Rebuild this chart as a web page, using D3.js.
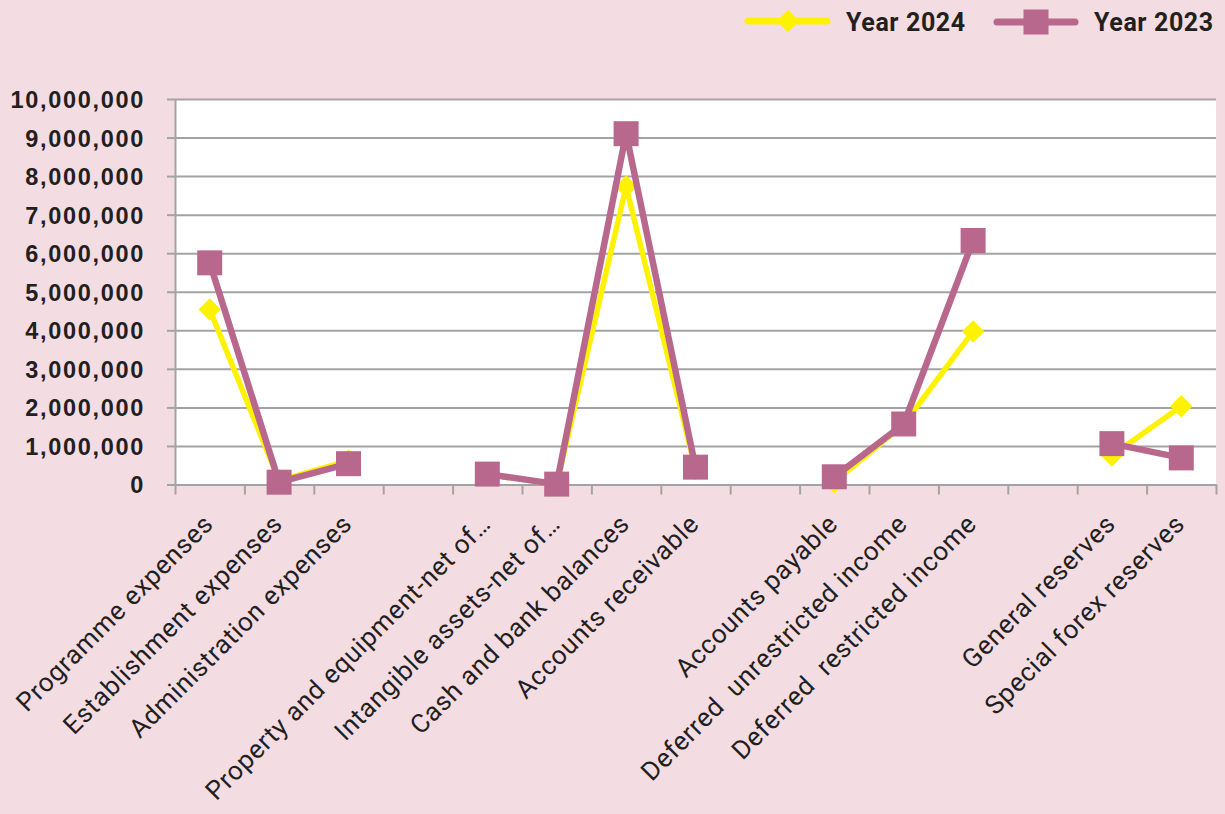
<html>
<head>
<script src="https://d3js.org/d3.v7.min.js"></script>
<style>
  body { margin: 0; background: #f4dce3; }
  svg { display: block; font-family: Roboto, sans-serif; }
</style>
</head>
<body>
<svg width="1225" height="814"></svg>
<script>
// chart values
var categories = ["Programme expenses", "Establishment expenses", "Administration expenses", "",
  "Property and equipment-net of\u2026", "Intangible assets-net of\u2026", "Cash and bank balances",
  "Accounts receivable", "", "Accounts payable", "Deferred  unrestricted income",
  "Deferred  restricted income", "", "General reserves", "Special forex reserves"];
var year2024 = [4540000, 100000, 620000, null, 260000, 5000, 7730000, 400000, null, 60000, 1560000, 3970000, null, 750000, 2030000];
var year2023 = [5750000, 60000, 540000, null, 270000, 10000, 9100000, 450000, null, 200000, 1570000, 6330000, null, 1060000, 690000];
var yTicks = [0, 1000000, 2000000, 3000000, 4000000, 5000000, 6000000, 7000000, 8000000, 9000000, 10000000];

var plotLeft = 175, plotRight = 1216, plotTop = 99, plotBottom = 484.5;
var yellow = "#fff200", purple = "#b9688d", grid = "#a3a3a5", ink = "#231f20";

var svg = d3.select("svg");
svg.append("rect").attr("width", 1225).attr("height", 814).attr("fill", "#f4dce3");

var x = d3.scaleBand()
    .domain(d3.range(categories.length))
    .range([plotLeft, plotRight]);
var xEdge = d3.scaleLinear()
    .domain([0, categories.length])
    .range([plotLeft, plotRight]);
var y = d3.scaleLinear()
    .domain([0, 10000000])
    .range([plotBottom, plotTop]);

svg.append("rect")
    .attr("x", plotLeft).attr("y", plotTop)
    .attr("width", plotRight - plotLeft).attr("height", plotBottom - plotTop)
    .attr("fill", "white");

// gridlines
svg.append("g")
    .attr("transform", "translate(" + plotLeft + ",0)")
    .call(d3.axisLeft(y).tickValues(yTicks).tickSize(-(plotRight - plotLeft)).tickFormat(""))
    .call(function(g) { g.select(".domain").remove(); })
    .selectAll("line").attr("stroke", grid).attr("stroke-width", 2);

// y axis with tick labels
var yAxis = svg.append("g")
    .attr("transform", "translate(" + plotLeft + ",0)")
    .call(d3.axisLeft(y).tickValues(yTicks).tickSize(8).tickSizeOuter(0).tickPadding(22)
        .tickFormat(d3.format(",")));
yAxis.select(".domain").attr("stroke", grid).attr("stroke-width", 2);
yAxis.selectAll("line").attr("stroke", grid).attr("stroke-width", 2);
yAxis.selectAll("text")
    .attr("fill", ink)
    .attr("font-size", 23.5)
    .attr("font-weight", "bold")
    .attr("letter-spacing", 1.7)
    .attr("dy", "0.36em");

// x axis: ticks between categories
var xAxis = svg.append("g")
    .attr("transform", "translate(0," + plotBottom + ")")
    .call(d3.axisBottom(xEdge).tickValues(d3.range(categories.length + 1)).tickSize(10).tickSizeOuter(0).tickFormat(""));
xAxis.select(".domain").attr("stroke", grid).attr("stroke-width", 2);
xAxis.selectAll("line").attr("stroke", grid).attr("stroke-width", 2);

// rotated category labels
svg.append("g").selectAll("text")
    .data(categories)
    .enter()
    .append("text")
    .attr("transform", function(d, i) {
        return "translate(" + (x(i) + x.bandwidth() / 2 + 5) + "," + (plotBottom + 41) + ") rotate(-45)";
    })
    .attr("text-anchor", "end")
    .attr("font-size", 26)
    .attr("letter-spacing", 0.7)
    .attr("fill", ink)
    .style("white-space", "pre")
    .text(function(d) { return d; });

var line = d3.line()
    .defined(function(d) { return d != null; })
    .x(function(d, i) { return x(i) + x.bandwidth() / 2; })
    .y(function(d) { return y(d); });

var diamond = d3.symbol().type(d3.symbolSquare).size(250);
var square = d3.symbol().type(d3.symbolSquare).size(625);

function drawSeries(values, color, width, marker, angle) {
    svg.append("path")
        .datum(values)
        .attr("d", line)
        .attr("fill", "none")
        .attr("stroke", color)
        .attr("stroke-width", width)
        .attr("stroke-linejoin", "round");
    svg.append("g").selectAll("path")
        .data(values.map(function(v, i) { return { v: v, i: i }; }).filter(function(d) { return d.v != null; }))
        .enter()
        .append("path")
        .attr("d", marker)
        .attr("fill", color)
        .attr("transform", function(d) {
            return "translate(" + (x(d.i) + x.bandwidth() / 2) + "," + y(d.v) + ") rotate(" + angle + ")";
        });
}

drawSeries(year2024, yellow, 5.5, diamond, 45);
drawSeries(year2023, purple, 6.5, square, 0);

// legend
var legend = svg.append("g");
legend.append("line").attr("x1", 748).attr("x2", 827).attr("y1", 21).attr("y2", 21)
    .attr("stroke", yellow).attr("stroke-width", 7).attr("stroke-linecap", "round");
legend.append("path").attr("d", diamond).attr("fill", yellow)
    .attr("transform", "translate(788,21) rotate(45)");
legend.append("text").attr("x", 846).attr("y", 31).text("Year 2024")
    .attr("font-size", 25).attr("font-weight", "bold").attr("letter-spacing", 0.6).attr("fill", ink);

legend.append("line").attr("x1", 997).attr("x2", 1075).attr("y1", 22).attr("y2", 22)
    .attr("stroke", purple).attr("stroke-width", 7).attr("stroke-linecap", "round");
legend.append("path").attr("d", square).attr("fill", purple)
    .attr("transform", "translate(1036,22)");
legend.append("text").attr("x", 1094).attr("y", 31).text("Year 2023")
    .attr("font-size", 25).attr("font-weight", "bold").attr("letter-spacing", 0.6).attr("fill", ink);
</script>
</body>
</html>
